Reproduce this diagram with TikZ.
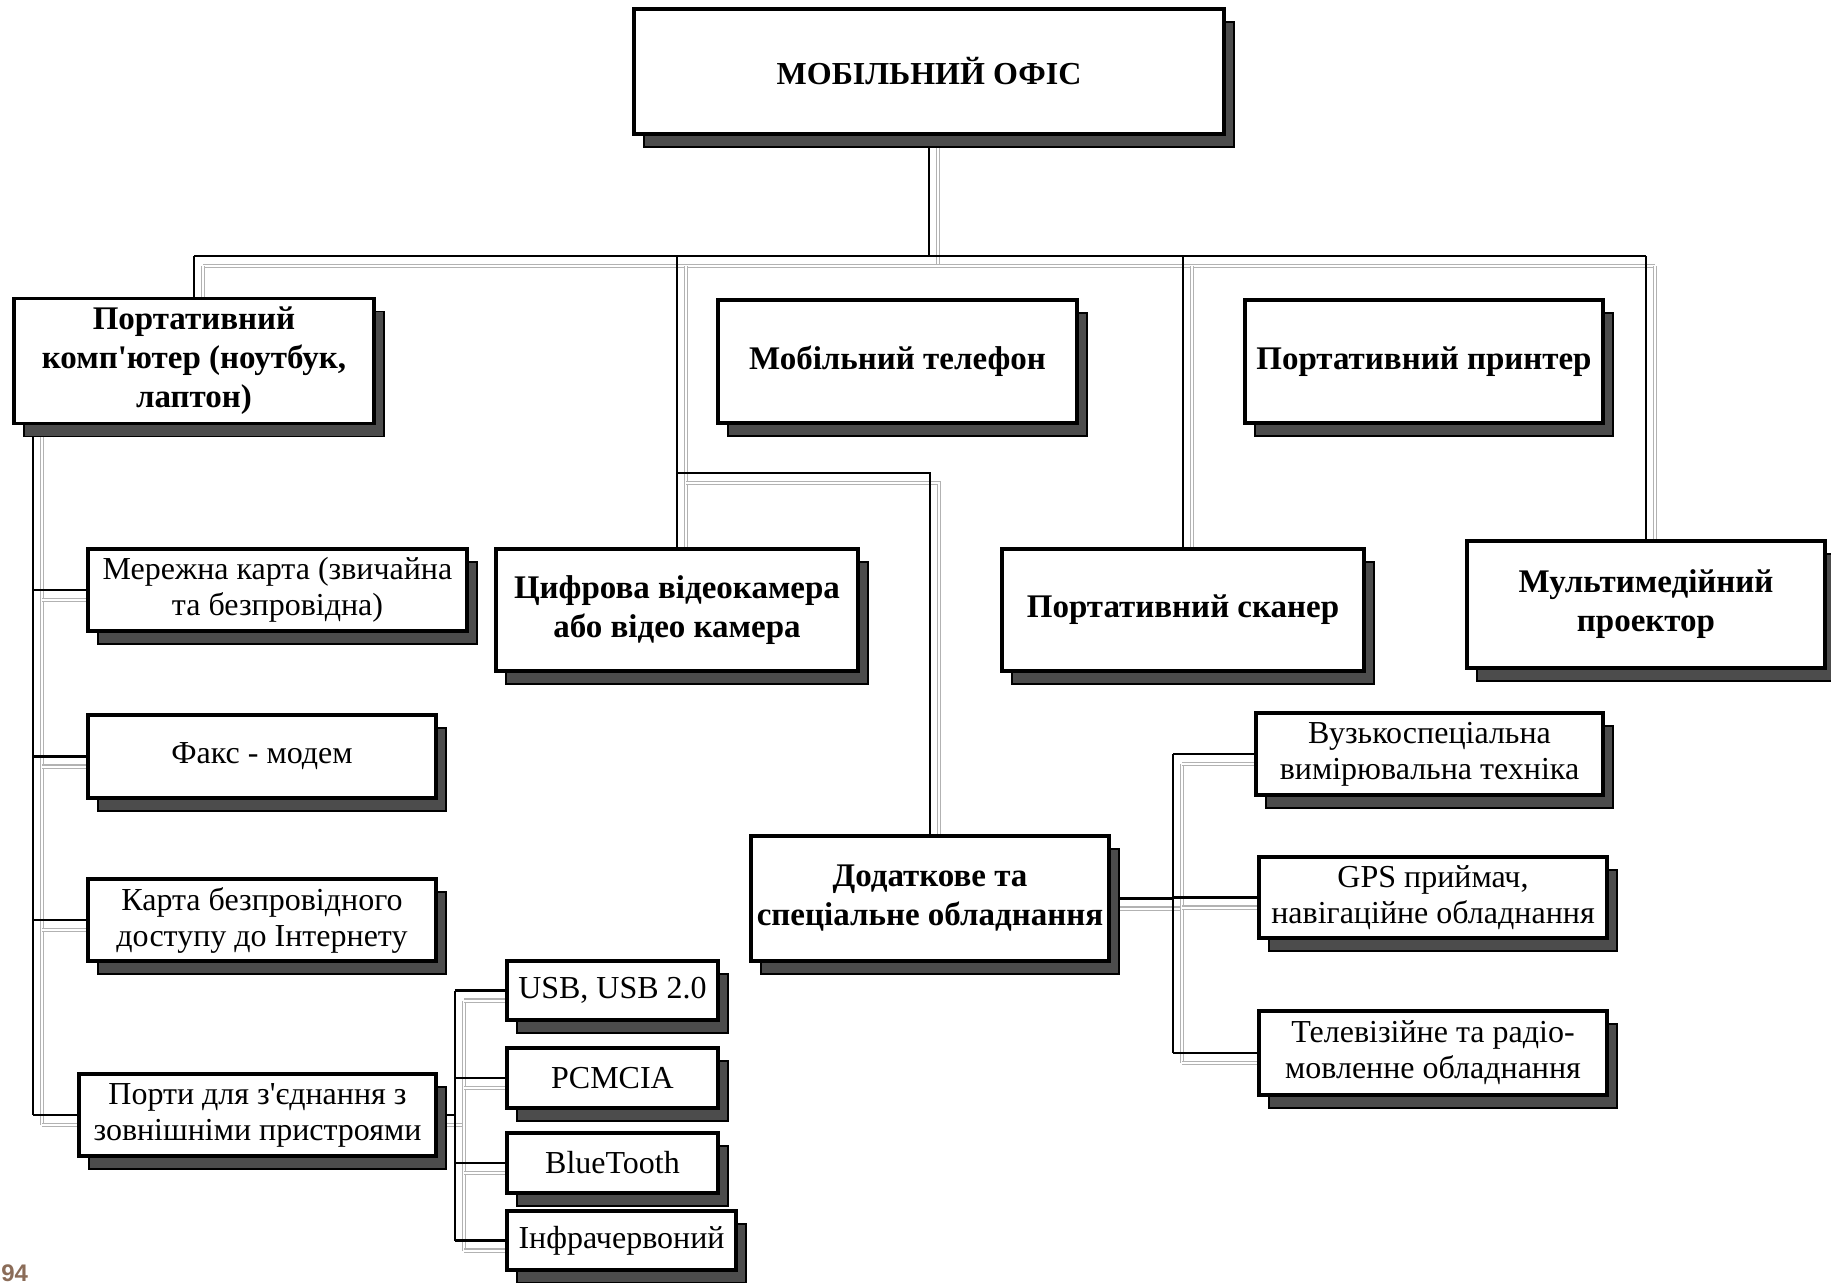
\documentclass[tikz,border=0pt]{standalone}
\usepackage{fontspec}
\setmainfont{Liberation Serif}
\setsansfont{Liberation Sans}
\usetikzlibrary{shadows,backgrounds}
\definecolor{pagenum}{RGB}{139,108,88}

\begin{document}
\begin{tikzpicture}[x=0.5pt, y=-0.5pt,
    box/.style={draw, line width=1.8pt, fill=white, align=center, inner sep=2pt,
      drop shadow={shadow xshift=5pt, shadow yshift=-6.5pt, opacity=1,
        fill=black!70, draw=black, line width=0.6pt}},
    headbox/.style={box, font=\fontsize{16.5}{19.5}\selectfont\bfseries},
    subbox/.style={box, font=\fontsize{16}{18}\selectfont},
    wire/.style={line width=1.4pt},
    ghost/.style={draw=black!30, double=white, double distance=1pt, line width=0.6pt,
      transform canvas={shift={(4.5pt,-5pt)}}}]
    \useasboundingbox (0,0) rectangle (1831,1283);

    % top
    \node[headbox, font=\fontsize{16}{19}\selectfont\bfseries,
          minimum width=295pt, minimum height=62.5pt] (office) at (929,71.5) {МОБІЛЬНИЙ ОФІС};

    % first level
    \node[headbox, minimum width=180pt, minimum height=62.5pt] (laptop) at (194,361)
        {Портативний\\комп\textquotesingle ютер (ноутбук,\\лаптон)};
    \node[headbox, minimum width=179.5pt, minimum height=61.5pt] (phone) at (897.5,361.5) {Мобільний телефон};
    \node[headbox, minimum width=179pt, minimum height=61.5pt] (printer) at (1424,361.5) {Портативний принтер};
    \node[headbox, minimum width=181pt, minimum height=61pt] (camera) at (677,610)
        {Цифрова відеокамера\\або відео камера};
    \node[headbox, minimum width=181pt, minimum height=61pt] (scanner) at (1183,610) {Портативний сканер};
    \node[headbox, minimum width=179pt, minimum height=63.5pt] (projector) at (1646,604.5)
        {Мультимедійний\\проектор};
    \node[headbox, minimum width=179pt, minimum height=62.5pt] (extra) at (930,898.5)
        {Додаткове та\\спеціальне обладнання};

    % laptop parts
    \node[subbox, minimum width=189.5pt, minimum height=41pt] (net) at (277.5,590)
        {Мережна карта (звичайна\\та безпровідна)};
    \node[subbox, minimum width=174pt, minimum height=41.5pt] (fax) at (262,756.5) {Факс - модем};
    \node[subbox, minimum width=174pt, minimum height=41pt] (wifi) at (262,920)
        {Карта безпровідного\\доступу до Інтернету};
    \node[subbox, minimum width=178.5pt, minimum height=41pt] (ports) at (257.5,1115)
        {Порти для з\textquotesingle єднання з\\зовнішніми пристроями};

    % ports
    \node[subbox, minimum width=105.5pt, minimum height=29.5pt] (usb) at (612.5,990.5) {USB, USB 2.0};
    \node[subbox, minimum width=105.5pt, minimum height=30pt] (pcmcia) at (612.5,1078) {PCMCIA};
    \node[subbox, minimum width=105.5pt, minimum height=30pt] (bt) at (612.5,1163) {BlueTooth};
    \node[subbox, minimum width=114.5pt, minimum height=29.5pt] (ir) at (621.5,1240.5) {Інфрачервоний};

    % extra equipment
    \node[subbox, minimum width=173.5pt, minimum height=41pt] (narrow) at (1429.5,754)
        {Вузькоспеціальна\\вимірювальна техніка};
    \node[subbox, minimum width=174pt, minimum height=40.5pt] (gps) at (1433,897.5)
        {GPS приймач,\\навігаційне обладнання};
    \node[subbox, minimum width=174pt, minimum height=42pt] (tv) at (1433,1053)
        {Телевізійне та радіо-\\мовленне обладнання};

    \node[anchor=north west, inner sep=0pt, text=pagenum,
          font=\fontsize{12}{12}\selectfont\sffamily\bfseries] (page) at (1,1264) {94};

    \coordinate (bus)  at (0,256);
    \coordinate (fork) at (0,473);
    \coordinate (lbus) at (33,0);
    \coordinate (pbus) at (455,0);
    \coordinate (rbus) at (1173,0);

    \begin{scope}[on background layer]
      \foreach \layer in {ghost, wire} {
        \draw[\layer] (office.south) -- (office.south |- bus);
        \draw[\layer] (laptop.north |- bus) -- (projector.north |- bus);
        \foreach \n in {laptop, camera, scanner, projector}
          \draw[\layer] (\n.north |- bus) -- (\n.north);
        \draw[\layer] (camera.north |- fork) -| (extra.north);

        \draw[\layer] (lbus |- laptop.south) -- (lbus |- ports.west);
        \foreach \n in {net, fax, wifi, ports}
          \draw[\layer] (lbus |- \n.west) -- (\n.west);

        \draw[\layer] (ports.east) -- (pbus |- ports.east);
        \draw[\layer] (pbus |- usb.west) -- (pbus |- ir.west);
        \foreach \n in {usb, pcmcia, bt, ir}
          \draw[\layer] (pbus |- \n.west) -- (\n.west);

        \draw[\layer] (extra.east) -- (rbus |- extra.east);
        \draw[\layer] (rbus |- narrow.west) -- (rbus |- tv.west);
        \foreach \n in {narrow, gps, tv}
          \draw[\layer] (rbus |- \n.west) -- (\n.west);
      }
    \end{scope}
\end{tikzpicture}
\end{document}
